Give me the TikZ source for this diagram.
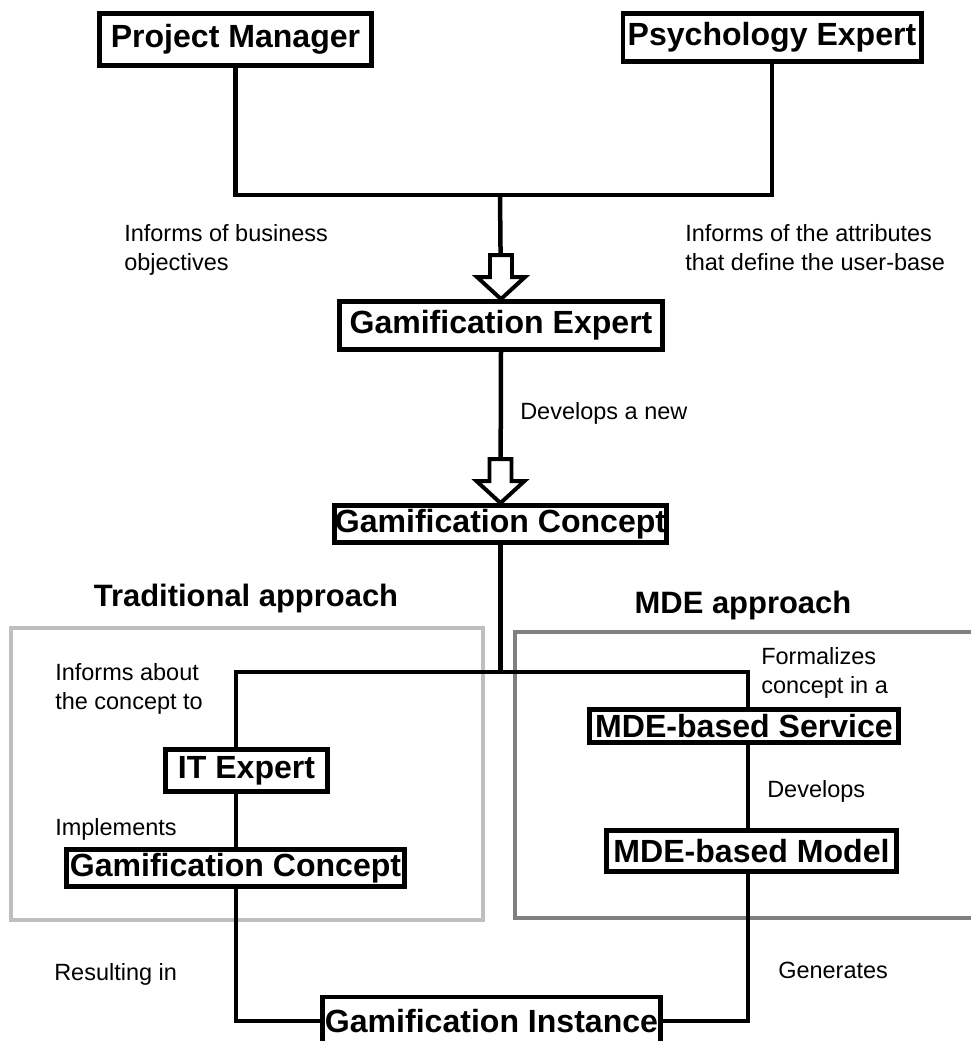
\documentclass[tikz,border=0pt]{standalone}
\usepackage{fontspec}
\setmainfont{Liberation Sans}

\begin{document}
\begin{tikzpicture}[
  x=0.025cm, y=-0.025cm,
  every node/.style={inner sep=0pt},
  box/.style={draw, line width=3.5pt, fill=white,
    font=\fontsize{22.8}{27}\selectfont\bfseries},
  note/.style={anchor=north west, align=left,
    font=\fontsize{16.7}{20.6}\selectfont},
  title/.style={anchor=base, font=\fontsize{22}{26}\selectfont\bfseries},
  link/.style={line width=3.2pt},
  tradframe/.style={draw=black!25, line width=3.5pt},
  mdeframe/.style={draw=black!50, line width=3.5pt},
  hollowarrow/.pic={
    \draw[line width=2.8pt, fill=white]
      (0,0) -- (-24,-22) -- (-11,-22) -- (-11,-44) -- (11,-44)
      -- (11,-22) -- (24,-22) -- cycle;}]
  \useasboundingbox (0,0) rectangle (971,1041);

  \draw[tradframe] (11,628) rectangle (483,920);
  \draw[mdeframe] (515,632) rectangle (976,918);
  \node[title] (trad) at (246,606) {Traditional approach};
  \node[title] (mde) at (743,613) {MDE approach};

  \node[box, minimum width=6.8cm, minimum height=1.3cm] (PM) at (235.5,39.5) {Project Manager};
  \node[box, minimum width=7.45cm, minimum height=1.2cm] (PS) at (772,37.5) {Psychology Expert};
  \node[box, minimum width=8.075cm, minimum height=1.2cm] (GE) at (501,325.5) {Gamification Expert};
  \node[box, minimum width=8.3cm, minimum height=0.925cm] (GC) at (500.5,524) {Gamification Concept};
  \node[box, minimum width=4.05cm, minimum height=1.05cm] (IT) at (246.5,770.5) {IT Expert};
  \node[box, minimum width=8.45cm, minimum height=0.925cm] (GC2) at (235.5,868) {Gamification Concept};
  \node[box, minimum width=7.725cm, minimum height=0.825cm] (MS) at (744,726) {MDE-based Service};
  \node[box, minimum width=7.25cm, minimum height=1.025cm] (MM) at (751.5,851) {MDE-based Model};
  \node[box, minimum width=8.45cm, minimum height=1.2cm] (GI) at (491.5,1021) {Gamification Instance};

  \coordinate (join) at (500,195);
  \coordinate (tradTop) at (236,672);
  \coordinate (mdeTop) at (748,672);

  \draw[link] (PM.south) |- (join) -| (PS.south);
  \draw[link] (join) -- (GE.north);
  \pic at (GE.north) {hollowarrow};
  \draw[link] (GE.south) -- (GC.north);
  \pic at (GC.north) {hollowarrow};
  \draw[link] (GC.south) |- (tradTop) -- (tradTop |- IT.north);
  \draw[link] (GC.south) |- (mdeTop) -- (mdeTop |- MS.north);
  \draw[link] (tradTop |- IT.south) -- (tradTop |- GC2.north);
  \draw[link] (tradTop |- GC2.south) |- (GI.west);
  \draw[link] (mdeTop |- MS.south) -- (mdeTop |- MM.north);
  \draw[link] (mdeTop |- MM.south) |- (GI.east);

  \node[note] (lblBiz) at (124,224) {Informs of business\\objectives};
  \node[note] (lblUser) at (685,224) {Informs of the attributes\\that define the user-base};
  \node[note] (lblNew) at (520,402) {Develops a new};
  \node[note] (lblInform) at (55,663) {Informs about\\the concept to};
  \node[note] (lblImpl) at (55,818) {Implements};
  \node[note] (lblResult) at (54,963) {Resulting in};
  \node[note] (lblFormal) at (761,647) {Formalizes\\concept in a};
  \node[note] (lblDev) at (767,780) {Develops};
  \node[note] (lblGen) at (778,962) {Generates};
\end{tikzpicture}
\end{document}
